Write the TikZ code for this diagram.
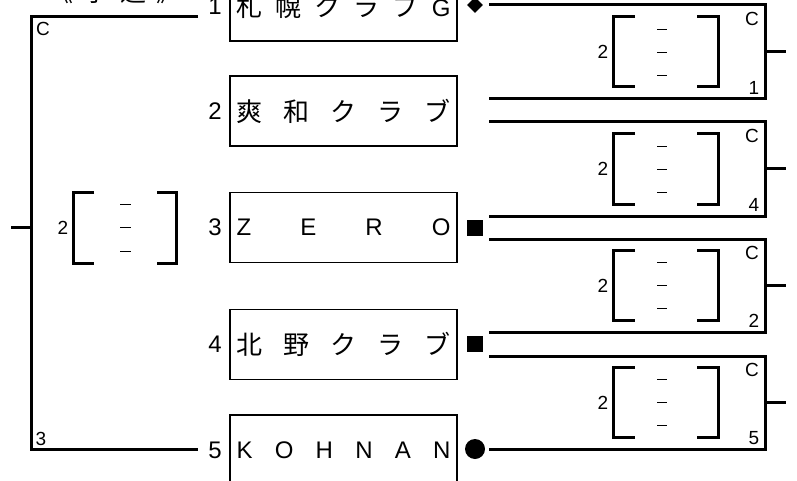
\documentclass[tikz,border=0pt]{standalone}
\usepackage{fontspec}
\setmainfont{Liberation Sans}
\newfontfamily\jp{Noto Sans CJK JP}
\usetikzlibrary{shapes.geometric}
\newcommand\jpc[1]{{\jp\fontsize{26}{26}\selectfont #1}}
\begin{document}
\begin{tikzpicture}[x=1pt,y=-1pt,
  team/.style={draw,line width=1.2pt,minimum width=227pt,minimum height=70pt,inner sep=0pt,font=\fontsize{24}{24}\selectfont},
  num/.style={font=\fontsize{24}{24}\selectfont,inner sep=0pt},
  lab/.style={font=\fontsize{19}{19}\selectfont,inner sep=0pt},
  bk/.style={line width=3pt,line join=miter},
  dsh/.style={line width=0.9pt},
  mk/.style={fill=black,inner sep=0pt}
]
\useasboundingbox (0,0) rectangle (797,481);
\clip (0,0) rectangle (797,481);

% title
\node[anchor=base,inner sep=0pt,font=\fontsize{24}{24}\selectfont] (title) at (115,1.5)
  {\hbox to 135pt{\jpc{《}\hfill\jpc{予}\hfill\jpc{選}\hfill\jpc{》}}};

% team boxes
\node[team] (t1) at (343.5,6) {\hbox to 214pt{\jpc{札}\hfill\jpc{幌}\hfill\jpc{ク}\hfill\jpc{ラ}\hfill\jpc{ブ}\hfill G}};
\node[team] (t2) at (343.5,111) {\hbox to 214pt{\jpc{爽}\hfill\jpc{和}\hfill\jpc{ク}\hfill\jpc{ラ}\hfill\jpc{ブ}}};
\node[team] (t3) at (343.5,227.5) {\hbox to 214pt{Z\hfill E\hfill R\hfill O}};
\node[team] (t4) at (343.5,344.5) {\hbox to 214pt{\jpc{北}\hfill\jpc{野}\hfill\jpc{ク}\hfill\jpc{ラ}\hfill\jpc{ブ}}};
\node[team] (t5) at (343.5,450) {\hbox to 214pt{K\hfill O\hfill H\hfill N\hfill A\hfill N}};

% numbers
\node[num] (n1) at (215,6) {1};
\node[num] (n2) at (215,111) {2};
\node[num] (n3) at (215,227.5) {3};
\node[num] (n4) at (215,344.5) {4};
\node[num] (n5) at (215,450) {5};

% markers
\node[mk,diamond,minimum size=16pt] (m1) at (475,5) {};
\node[mk,minimum size=16pt] (m3) at (475,227.5) {};
\node[mk,minimum size=16pt] (m4) at (475,343.5) {};
\node[mk,circle,minimum size=20pt] (m5) at (475,449) {};

% right groups
\foreach \yt/\yb/\res [count=\i] in {5/99/1,122/216/4,239/332/2,356/449/5}{
  \pgfmathsetmacro\yc{(\yt+\yb)/2}
  \coordinate (s\i t) at (489,\yt);
  \coordinate (s\i b) at (489,\yb);
  \coordinate (c\i t) at (765,\yt);
  \coordinate (c\i b) at (765,\yb);
  \coordinate (w\i) at (786,\yc);
  \draw[bk] (s\i t) -- (c\i t) -- (c\i b) -- (s\i b);
  \draw[bk] (765,\yc) -- (w\i);
  \draw[bk] (635,{\yc-35}) -- (613,{\yc-35}) -- (613,{\yc+35}) -- (635,{\yc+35});
  \draw[bk] (697,{\yc-35}) -- (718,{\yc-35}) -- (718,{\yc+35}) -- (697,{\yc+35});
  \foreach \d in {-23,0,23}{\draw[dsh] (657,{\yc+\d}) -- (667,{\yc+\d});}
  \node[lab] at (603,\yc) {2};
  \node[lab] at (752,{\yt+14}) {C};
  \node[lab] at (754,{\yb-11}) {\res};
}

% left big bracket
\coordinate (lt) at (198,17);
\coordinate (lb) at (198,449);
\coordinate (lstub) at (11,227);
\draw[bk] (lt) -- (31,17) -- (31,449) -- (lb);
\draw[bk] (lstub) -- (31,227);
\node[lab] at (43,29) {C};
\node[lab] at (41,439) {3};

% left inner bracket
\draw[bk] (94,192) -- (73,192) -- (73,263) -- (94,263);
\draw[bk] (157,192) -- (176,192) -- (176,263) -- (157,263);
\foreach \d in {204,227,251}{\draw[dsh] (120,\d) -- (131,\d);}
\node[lab] at (63,228) {2};
\end{tikzpicture}
\end{document}
